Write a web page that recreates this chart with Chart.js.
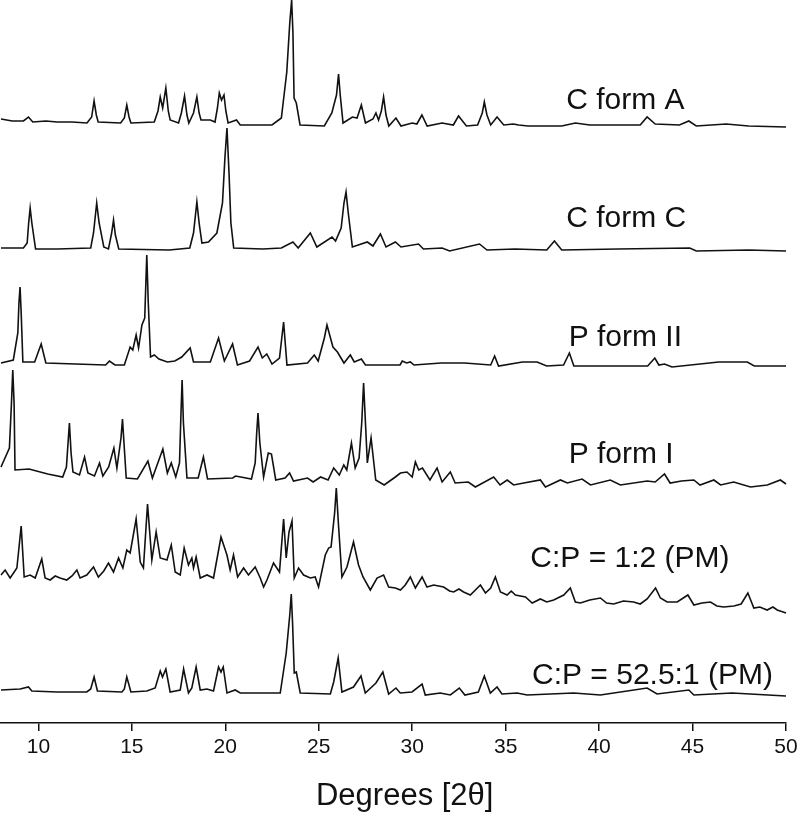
<!DOCTYPE html>
<html>
<head>
<meta charset="utf-8">
<script src="https://cdn.jsdelivr.net/npm/chart.js@4.4.1/dist/chart.umd.min.js"></script>
<style>
  html, body { margin: 0; padding: 0; background: #fff; }
  #wrap { width: 799px; height: 814px; position: relative; }
</style>
</head>
<body>
<div id="wrap"><canvas id="xrpd"></canvas></div>
<script>
// XRPD patterns, stacked; y values are offset intensities (a.u.)
const seriesNames = ['C form A', 'C form C', 'P form II', 'P form I', 'C:P = 1:2 (PM)', 'C:P = 52.5:1 (PM)'];
const xTicks = [10, 15, 20, 25, 30, 35, 40, 45, 50];
const xTitle = 'Degrees [2θ]';

// [2theta, intensity]
const cFormA = [[8.0,604],[8.6,602],[9.2,602],[9.47,606],[9.7,601],[10.4,602],[11.0,601],[11.8,601],[12.6,600],[12.85,606],[12.98,622],[13.1,608],[13.2,601],[14.4,600],[14.6,605],[14.73,618],[14.85,606],[14.95,600],[16.2,601],[16.4,612],[16.52,626],[16.65,615],[16.82,635],[16.95,612],[17.05,603],[17.5,600],[17.65,610],[17.82,627],[17.95,608],[18.05,600],[18.3,610],[18.48,626],[18.6,610],[18.7,603],[19.2,603],[19.45,601],[19.58,615],[19.68,630],[19.8,623],[19.93,628],[20.03,612],[20.15,600],[20.6,603],[20.8,598],[22.5,598],[23.0,605],[23.29,651],[23.45,700],[23.55,723],[23.62,690],[23.68,625],[23.8,620],[24.0,598],[25.3,597],[25.7,610],[25.95,628],[26.06,649],[26.15,628],[26.3,600],[26.8,606],[27.05,605],[27.28,618],[27.5,600],[27.9,604],[28.06,610],[28.2,603],[28.35,612],[28.47,626],[28.6,608],[28.75,597],[29.13,605],[29.4,597],[30.0,600],[30.25,599],[30.52,608],[30.8,597],[31.6,600],[32.2,598],[32.48,607],[32.9,597],[33.5,598],[33.75,610],[33.86,621],[34.0,608],[34.2,598],[34.54,606],[34.9,598],[35.4,599],[35.7,598],[36.2,597],[38.0,597],[38.73,600],[39.5,598],[41.0,598],[42.2,598],[42.57,606],[43.0,599],[44.3,598],[44.8,602],[45.2,597],[46.8,599],[48.0,597],[50.0,596]];

const cFormC = [[8.0,475],[9.2,475],[9.4,480],[9.48,500],[9.56,515],[9.65,500],[9.85,474],[11.0,474],[12.8,475],[12.95,490],[13.12,520],[13.25,500],[13.5,476],[13.75,474],[13.92,490],[14.02,503],[14.12,488],[14.3,474],[17.0,473],[18.1,475],[18.3,490],[18.48,521],[18.6,500],[18.75,480],[19.1,481],[19.55,490],[19.85,520],[19.98,565],[20.09,595],[20.2,550],[20.3,500],[20.45,475],[22.0,474],[23.0,475],[23.62,481],[23.9,475],[24.55,490],[24.9,476],[25.71,486],[25.9,482],[26.2,495],[26.35,520],[26.46,531],[26.58,510],[26.8,476],[27.6,481],[27.9,477],[28.3,489],[28.6,476],[29.1,481],[29.4,476],[30.34,479],[30.6,474],[31.6,475],[32.0,472],[33.6,479],[34.0,473],[35.5,474],[37.2,473],[37.61,482],[38.0,473],[41.0,474],[44.85,475],[45.2,472],[48.0,473],[50.0,472]];

const pFormII = [[8.0,360],[8.66,363],[8.9,390],[8.96,420],[9.02,436],[9.08,410],[9.17,361],[9.8,361],[10.15,379],[10.4,360],[13.6,358],[13.8,362],[14.1,358],[14.6,358],[14.91,376],[15.05,373],[15.23,388],[15.36,375],[15.54,398],[15.69,405],[15.75,440],[15.8,468],[15.88,420],[16.0,366],[16.2,368],[16.45,364],[16.9,361],[17.3,362],[17.67,366],[18.12,375],[18.3,361],[19.2,361],[19.64,385],[19.95,362],[20.39,379],[20.65,358],[21.3,362],[21.75,376],[21.98,365],[22.22,369],[22.5,359],[22.9,365],[23.12,401],[23.3,358],[24.4,360],[24.76,368],[24.97,362],[25.3,385],[25.44,398],[25.76,376],[26.0,371],[26.35,360],[26.69,368],[26.9,361],[27.28,364],[27.5,358],[29.35,358],[29.47,362],[29.7,360],[29.9,361],[30.1,358],[31.55,360],[32.8,360],[34.2,358],[34.41,367],[34.62,357],[35.9,361],[36.68,361],[37.2,357],[38.1,358],[38.41,370],[38.65,357],[42.6,357],[42.98,365],[43.2,358],[43.5,359],[43.9,356],[46.4,361],[47.93,361],[48.3,357],[50.0,357]];

const pFormI = [[8.0,256],[8.45,275],[8.56,320],[8.63,353],[8.7,320],[8.75,253],[9.5,254],[10.5,249],[11.3,246],[11.5,256],[11.66,300],[11.75,270],[11.85,251],[12.2,248],[12.47,266],[12.65,250],[13.0,247],[13.27,260],[13.45,247],[13.76,256],[14.04,275],[14.2,255],[14.42,285],[14.5,304],[14.58,280],[14.7,245],[15.3,244],[15.86,262],[16.1,245],[16.66,274],[16.9,250],[17.11,260],[17.35,246],[17.55,260],[17.63,310],[17.69,343],[17.76,300],[17.95,245],[18.55,245],[18.83,266],[19.05,244],[20.4,245],[20.55,247],[21.4,244],[21.6,260],[21.68,290],[21.75,310],[21.85,280],[22.05,246],[22.3,270],[22.47,269],[22.7,243],[23.2,245],[23.44,250],[23.65,242],[24.4,245],[24.7,241],[25.1,246],[25.5,243],[25.8,255],[26.1,248],[26.34,258],[26.5,253],[26.75,280],[26.95,255],[27.16,265],[27.3,300],[27.4,340],[27.5,300],[27.6,260],[27.8,285],[28.05,243],[28.5,238],[29.1,246],[29.37,250],[29.72,251],[30.0,246],[30.17,261],[30.35,253],[30.55,255],[30.95,243],[31.33,255],[31.6,241],[32.04,251],[32.3,240],[33.0,241],[33.38,236],[34.36,246],[34.7,238],[35.08,243],[35.43,238],[35.97,240],[36.86,243],[37.13,236],[37.93,243],[38.3,240],[39.09,244],[39.54,238],[40.6,243],[41.14,238],[42.57,242],[43.0,241],[43.5,249],[43.8,240],[44.4,242],[45.07,243],[45.4,238],[46.14,243],[46.5,238],[47.2,241],[48.1,236],[49.0,238],[49.7,243],[50.0,239]];

const cp12 = [[8.0,148],[8.22,153],[8.49,145],[8.85,155],[9.08,197],[9.24,146],[9.56,148],[9.83,145],[10.18,164],[10.36,145],[10.63,143],[10.9,147],[11.16,145],[11.52,143],[11.8,147],[12.06,153],[12.23,145],[12.59,148],[12.95,156],[13.21,146],[13.5,152],[13.75,160],[14.02,151],[14.29,165],[14.52,155],[14.73,173],[14.91,170],[15.23,204],[15.45,161],[15.62,155],[15.84,219],[16.07,163],[16.3,191],[16.52,165],[16.88,163],[17.11,178],[17.32,151],[17.59,148],[17.8,175],[18.03,158],[18.21,165],[18.3,155],[18.44,166],[18.66,145],[19.02,148],[19.37,145],[19.77,186],[20.09,168],[20.26,153],[20.44,168],[20.66,146],[20.98,155],[21.24,148],[21.6,156],[21.87,145],[22.05,136],[22.23,143],[22.58,160],[22.9,151],[23.12,204],[23.26,165],[23.41,191],[23.57,202],[23.69,145],[23.92,155],[24.19,148],[24.55,145],[24.81,146],[24.99,136],[25.35,168],[25.53,175],[25.66,176],[25.85,210],[25.94,235],[26.05,200],[26.24,146],[26.51,156],[26.86,181],[27.13,158],[27.37,146],[27.76,133],[28.12,145],[28.47,148],[28.74,136],[29.1,135],[29.37,133],[29.63,138],[29.9,146],[30.17,135],[30.53,146],[30.79,136],[31.15,138],[31.68,136],[32.0,132],[32.22,131],[32.5,134],[32.75,131],[33.11,128],[33.65,138],[33.92,130],[34.2,135],[34.45,146],[34.72,131],[35.08,128],[35.3,132],[35.52,128],[36.06,126],[36.42,120],[36.86,124],[37.2,121],[37.57,123],[38.11,128],[38.46,135],[38.73,121],[39.0,120],[39.5,123],[40.07,125],[40.4,120],[40.78,119],[41.3,122],[41.85,121],[42.2,119],[42.57,124],[43.02,135],[43.28,125],[43.64,121],[44.18,121],[44.75,128],[45.07,118],[45.5,120],[45.96,121],[46.3,117],[46.67,116],[47.21,117],[47.6,119],[47.96,130],[48.28,115],[48.6,116],[48.99,113],[49.3,116],[49.53,113],[50.0,110]];

const cp525 = [[8.0,33],[9.02,34],[9.47,36],[9.65,32],[11.0,31],[12.59,31],[12.8,34],[12.98,46],[13.16,32],[14.47,31],[14.6,34],[14.73,46],[14.95,31],[15.8,32],[16.25,35],[16.52,52],[16.64,46],[16.82,54],[17.05,31],[17.59,33],[17.77,54],[18.03,30],[18.21,35],[18.44,56],[18.66,33],[19.02,34],[19.37,32],[19.64,56],[19.77,51],[19.89,56],[20.09,30],[20.53,33],[20.8,30],[22.94,30],[23.26,70],[23.45,108],[23.53,129],[23.6,100],[23.69,50],[23.8,51],[24.01,30],[25.62,29],[25.8,41],[26.04,65],[26.24,31],[26.86,36],[27.26,47],[27.49,30],[28.06,40],[28.43,51],[28.74,29],[29.13,35],[29.36,30],[29.99,31],[30.53,39],[30.7,28],[31.5,30],[32.04,28],[32.52,35],[32.82,28],[33.54,31],[33.86,47],[34.18,30],[34.54,36],[34.8,29],[35.61,30],[36.15,28],[38.64,30],[40.07,28],[42.57,35],[43.1,29],[44.8,33],[45.07,28],[47.12,30],[50.0,27]];

const seriesData = [cFormA, cFormC, pFormII, pFormI, cp12, cp525];

// label anchors in data units (left edge, text baseline)
const labelAnchors = [[38.24, 614], [38.24, 496], [38.37, 377], [38.37, 260], [36.32, 156], [36.41, 39]];
const titleCenter = 29.6;

const labelPlugin = {
  id: 'traceLabels',
  afterDraw(chart) {
    const ctx = chart.ctx;
    const xs = chart.scales.x, ys = chart.scales.y;
    ctx.save();
    ctx.font = '30px "Liberation Sans", Arial, sans-serif';
    ctx.fillStyle = '#111';
    ctx.textAlign = 'left';
    ctx.textBaseline = 'alphabetic';
    seriesNames.forEach((name, i) => {
      ctx.fillText(name, xs.getPixelForValue(labelAnchors[i][0]), ys.getPixelForValue(labelAnchors[i][1]));
    });
    // axis title, drawn slightly right of centre like the original
    ctx.font = '31px "Liberation Sans", Arial, sans-serif';
    ctx.textAlign = 'center';
    ctx.fillText(xTitle, xs.getPixelForValue(titleCenter), chart.height - 9);
    ctx.restore();
  }
};

Chart.defaults.font.family = '"Liberation Sans", Arial, sans-serif';

new Chart(document.getElementById('xrpd'), {
  type: 'line',
  data: {
    datasets: seriesData.map((pts, i) => ({
      label: seriesNames[i],
      data: pts.map(p => ({ x: p[0], y: p[1] })),
      borderColor: '#111',
      borderWidth: 1.6,
      pointRadius: 0,
      fill: false,
      tension: 0,
      clip: false
    }))
  },
  options: {
    responsive: true,
    maintainAspectRatio: false,
    animation: false,
    events: [],
    layout: { padding: { left: 1, right: 13, top: 0, bottom: 0 } },
    plugins: { legend: { display: false }, tooltip: { enabled: false } },
    scales: {
      x: {
        type: 'linear',
        min: 8,
        max: 50,
        afterBuildTicks: axis => { axis.ticks = xTicks.map(v => ({ value: v })); },
        afterFit: axis => { axis.height = 91; axis.paddingLeft = 0; axis.paddingRight = 0; },
        ticks: { font: { size: 21 }, color: '#111', padding: 4, maxRotation: 0, autoSkip: false },
        grid: { drawOnChartArea: false, drawTicks: true, tickLength: 8, color: '#111', lineWidth: 1.5 },
        border: { display: true, color: '#111', width: 1.5 },
        title: { display: false }
      },
      y: { display: false, min: 0, max: 723 }
    }
  },
  plugins: [labelPlugin]
});
</script>
</body>
</html>
